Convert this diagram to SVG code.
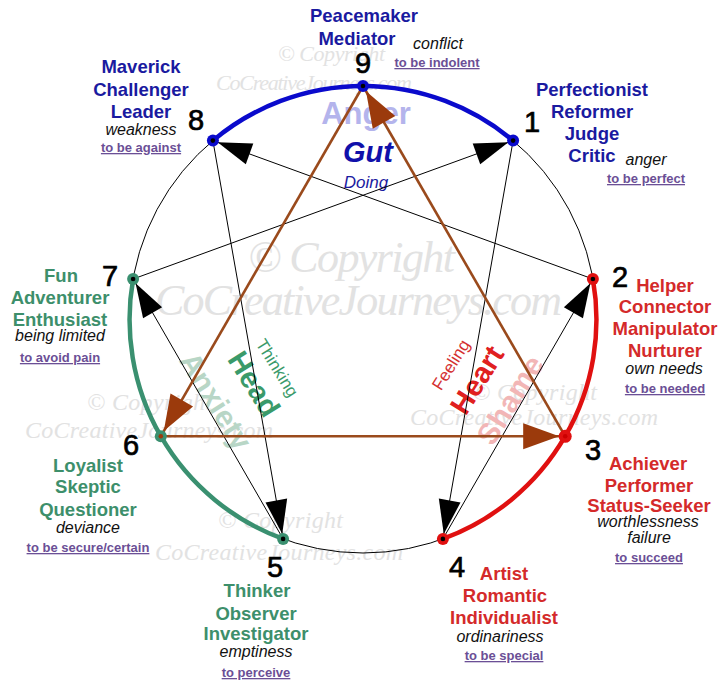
<svg xmlns="http://www.w3.org/2000/svg" width="728" height="688" viewBox="0 0 728 688">
<style>
text{font-family:"Liberation Sans",Arial,sans-serif;text-anchor:middle}
.wm{font-family:"Liberation Serif","Times New Roman",serif;font-style:italic;fill:#e2e2e2;text-anchor:start}
.nb{font-size:18.5px;font-weight:bold;fill:#1a1aa0}
.nr{font-size:18.5px;font-weight:bold;fill:#d42a2a}
.ng{font-size:18.5px;font-weight:bold;fill:#3d8f6b}
.it{font-size:16px;font-style:italic;fill:#111}
.ul{font-size:13px;font-weight:bold;fill:#6b4f96;text-decoration:underline}
.num{font-size:29px;fill:#000;stroke:#000;stroke-width:0.7}
.hex{stroke:#000;stroke-width:1;fill:none;marker-end:url(#ab)}
.tri{stroke:#9a4a1c;stroke-width:2.6;fill:none;marker-end:url(#ar)}
.rot{dominant-baseline:central}
</style>
<defs>
<marker id="ab" markerUnits="userSpaceOnUse" markerWidth="40" markerHeight="24" refX="39" refY="11" orient="auto" overflow="visible"><path d="M0,0 L34,11 L0,22 Z" fill="#000"/></marker>
<marker id="ar" markerUnits="userSpaceOnUse" markerWidth="44" markerHeight="28" refX="42" refY="13" orient="auto" overflow="visible"><path d="M0,0 L36,13 L0,26 Z" fill="#9b3a0c"/></marker>
</defs>
<rect width="728" height="688" fill="#fff"/>
<g id="watermarks">
<text class="wm" x="278" y="61" font-size="22" textLength="107">© Copyright</text>
<text class="wm" x="216" y="90" font-size="22" textLength="196">CoCreativeJourneys.com</text>
<text class="wm" x="248" y="272" font-size="44" textLength="207">© Copyright</text>
<text class="wm" x="155" y="315" font-size="44" textLength="407">CoCreativeJourneys.com</text>
<text class="wm" x="87" y="410" font-size="24" textLength="125">© Copyright</text>
<text class="wm" x="25" y="438" font-size="24" textLength="248">CoCreativeJourneys.com</text>
<text class="wm" x="472" y="400" font-size="24" textLength="125">© Copyright</text>
<text class="wm" x="410" y="425" font-size="24" textLength="248">CoCreativeJourneys.com</text>
<text class="wm" x="218" y="528" font-size="24" textLength="125">© Copyright</text>
<text class="wm" x="155" y="560" font-size="24" textLength="248">CoCreativeJourneys.com</text>
</g>
<g id="centers">
<text x="366" y="124" font-size="31" font-weight="bold" fill="#b4b4ec">Anger</text>
<text x="368" y="162" font-size="29" font-weight="bold" font-style="italic" fill="#1010aa">Gut</text>
<text x="366" y="188" font-size="17" font-style="italic" fill="#1a1aa0">Doing</text>
<text class="rot" transform="translate(216,401) rotate(58)" font-size="30" font-weight="bold" fill="#b8d6c6">Anxiety</text>
<text class="rot" transform="translate(254,384) rotate(58)" font-size="29" font-weight="bold" fill="#3a9a6a">Head</text>
<text class="rot" transform="translate(277,368) rotate(58)" font-size="17" fill="#3a9a6a">Thinking</text>
<text class="rot" transform="translate(510,400) rotate(-58)" font-size="30" font-weight="bold" fill="#f2b6b6">Shame</text>
<text class="rot" transform="translate(477,380) rotate(-58)" font-size="29" font-weight="bold" fill="#e02020">Heart</text>
<text class="rot" transform="translate(451,365) rotate(-58)" font-size="17" fill="#d43030">Feeling</text>
</g>
<g id="connectors">
<circle cx="363" cy="319.5" r="233.5" fill="none" stroke="#000" stroke-width="1"/>
<path class="hex" d="M513.1,140.6 L442.9,538.9"/>
<path class="hex" d="M442.9,538.9 L592.9,279"/>
<path class="hex" d="M592.9,279 L212.9,140.6"/>
<path class="hex" d="M212.9,140.6 L283.1,538.9"/>
<path class="hex" d="M283.1,538.9 L133.1,279"/>
<path class="hex" d="M133.1,279 L513.1,140.6"/>
<path class="tri" d="M565.2,436.3 L363,86"/>
<path class="tri" d="M363,86 L160.8,436.3"/>
<path class="tri" d="M160.8,436.3 L565.2,436.3"/>
<path d="M212.9,140.6 A233.5,233.5 0 0 1 513.1,140.6" fill="none" stroke="#0a0acc" stroke-width="4.5"/>
<path d="M592.9,279 A233.5,233.5 0 0 1 442.9,538.9" fill="none" stroke="#e01010" stroke-width="4.5"/>
<path d="M283.1,538.9 A233.5,233.5 0 0 1 133.1,279" fill="none" stroke="#3a9070" stroke-width="4.5"/>
</g>
<g id="n9"><circle cx="363" cy="86" r="6" fill="#0a0acc"/><circle cx="363" cy="86" r="2.3" fill="#000"/>
<text class="nb" x="364" y="22">Peacemaker</text><text class="nb" x="357" y="45">Mediator</text>
<text class="it" x="438" y="49">conflict</text><text class="ul" x="437" y="67">to be indolent</text>
<text class="num" x="363" y="73">9</text></g>
<g id="n1"><circle cx="513.1" cy="140.6" r="6" fill="#0a0acc"/><circle cx="513.1" cy="140.6" r="2.3" fill="#000"/>
<text class="nb" x="592" y="96">Perfectionist</text><text class="nb" x="592" y="118">Reformer</text>
<text class="nb" x="592" y="140">Judge</text><text class="nb" x="592" y="162">Critic</text>
<text class="it" x="646" y="165">anger</text><text class="ul" x="646" y="183">to be perfect</text>
<text class="num" x="532" y="132">1</text></g>
<g id="n2"><circle cx="592.9" cy="279" r="6" fill="#e01010"/><circle cx="592.9" cy="279" r="2.3" fill="#000"/>
<text class="nr" x="665" y="292">Helper</text><text class="nr" x="665" y="313">Connector</text>
<text class="nr" x="665" y="335">Manipulator</text><text class="nr" x="665" y="357">Nurturer</text>
<text class="it" x="664" y="374">own needs</text><text class="ul" x="665" y="393">to be needed</text>
<text class="num" x="620" y="287">2</text></g>
<g id="n3"><circle cx="565.2" cy="436.3" r="6.5" fill="#e01010"/><circle cx="565.2" cy="436.3" r="2.3" fill="#c00"/>
<text class="nr" x="648" y="470">Achiever</text><text class="nr" x="649" y="492">Performer</text>
<text class="nr" x="649" y="512">Status-Seeker</text>
<text class="it" x="648" y="527">worthlessness</text><text class="it" x="649" y="543">failure</text>
<text class="ul" x="649" y="562">to succeed</text>
<text class="num" x="593" y="460">3</text></g>
<g id="n4"><circle cx="442.9" cy="538.9" r="6" fill="#e01010"/><circle cx="442.9" cy="538.9" r="2.3" fill="#000"/>
<text class="nr" x="504" y="580">Artist</text><text class="nr" x="505" y="602">Romantic</text>
<text class="nr" x="504" y="624">Individualist</text>
<text class="it" x="500" y="642">ordinariness</text><text class="ul" x="504" y="660">to be special</text>
<text class="num" x="457" y="577">4</text></g>
<g id="n5"><circle cx="283.1" cy="538.9" r="6" fill="#3a9070"/><circle cx="283.1" cy="538.9" r="2.3" fill="#000"/>
<text class="ng" x="257" y="597">Thinker</text><text class="ng" x="256" y="620">Observer</text>
<text class="ng" x="256" y="640">Investigator</text>
<text class="it" x="256" y="657">emptiness</text><text class="ul" x="256" y="677">to perceive</text>
<text class="num" x="275" y="577">5</text></g>
<g id="n6"><circle cx="160.8" cy="436.3" r="6" fill="#3a9070"/><circle cx="160.8" cy="436.3" r="2.3" fill="#9b3a0c"/>
<text class="ng" x="88" y="472">Loyalist</text><text class="ng" x="88" y="493">Skeptic</text>
<text class="ng" x="88" y="516">Questioner</text>
<text class="it" x="88" y="533">deviance</text><text class="ul" x="88" y="552">to be secure/certain</text>
<text class="num" x="131" y="455">6</text></g>
<g id="n7"><circle cx="133.1" cy="279" r="6" fill="#3a9070"/><circle cx="133.1" cy="279" r="2.3" fill="#000"/>
<text class="ng" x="61" y="282">Fun</text><text class="ng" x="60" y="304">Adventurer</text>
<text class="ng" x="60" y="326">Enthusiast</text>
<text class="it" x="60" y="341">being limited</text><text class="ul" x="60" y="362">to avoid pain</text>
<text class="num" x="110" y="286">7</text></g>
<g id="n8"><circle cx="212.9" cy="140.6" r="6" fill="#0a0acc"/><circle cx="212.9" cy="140.6" r="2.3" fill="#000"/>
<text class="nb" x="141" y="73">Maverick</text><text class="nb" x="141" y="96">Challenger</text>
<text class="nb" x="141" y="118">Leader</text>
<text class="it" x="141" y="135">weakness</text><text class="ul" x="141" y="152">to be against</text>
<text class="num" x="196" y="130">8</text></g>
</svg>
